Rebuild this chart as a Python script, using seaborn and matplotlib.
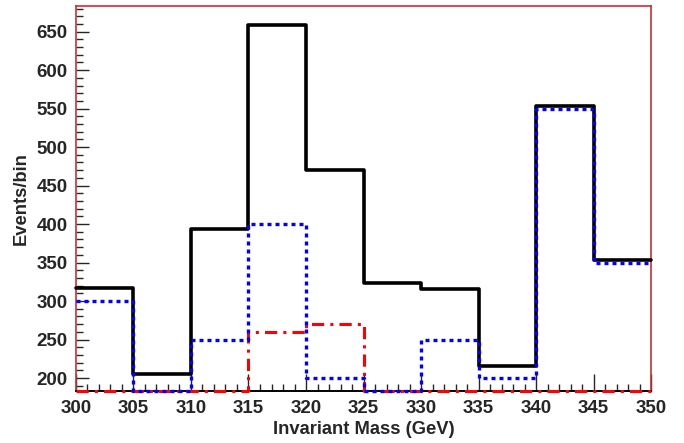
import numpy as np
import seaborn as sns
import matplotlib.pyplot as plt
from matplotlib.ticker import MultipleLocator

# bin edges and contents
edges = [300, 305, 310, 315, 320, 325, 330, 335, 340, 345, 350]
total = [317, 205, 393, 659, 470, 323, 316, 216, 553, 353]
blue_comp = [300, 0, 250, 400, 200, 0, 250, 200, 550, 350]
red_comp = [0, 0, 0, 260, 270, 0, 0, 0, 0, 0]

ymin, ymax = 183, 683

sns.set_style("ticks")
plt.rcParams["font.family"] = ["Liberation Sans", "DejaVu Sans"]
plt.rcParams["font.weight"] = "bold"

fig = plt.figure(figsize=(6.84, 4.43), dpi=100)
ax = fig.add_axes([0.111, 0.117, 0.841, 0.869])

centers = (np.array(edges[:-1]) + np.array(edges[1:])) / 2

# ROOT draws empty bins at the bottom of the frame
def draw(vals, **kw):
    w = np.clip(np.array(vals, dtype=float), ymin + 0.8, None)
    sns.histplot(x=centers, weights=w, bins=edges, element="step", fill=False, ax=ax, **kw)

draw(red_comp, color="red", linewidth=2.2, linestyle=(0, (4, 2, 1, 2)))
draw(total, color="black", linewidth=2.6)
draw(blue_comp, color="blue", linewidth=2.4, linestyle=(0, (1.2, 1.2)))
for ln in ax.lines:
    ln.set_clip_on(False)
    ln.set_zorder(3)

ax.set_xlim(300, 350)
ax.set_ylim(ymin, ymax)
ax.xaxis.set_major_locator(MultipleLocator(5))
ax.xaxis.set_minor_locator(MultipleLocator(1))
ax.yaxis.set_major_locator(MultipleLocator(50))
ax.yaxis.set_minor_locator(MultipleLocator(10))
ax.tick_params(axis="both", which="major", direction="in", length=9, width=1, labelsize=13.5, pad=6)
ax.tick_params(axis="both", which="minor", direction="in", length=5, width=1)
ax.tick_params(axis="x", which="major", length=12)
for lab in ax.get_xticklabels() + ax.get_yticklabels():
    lab.set_fontweight("bold")

for side in ["top", "right", "left"]:
    ax.spines[side].set_visible(True)
    ax.spines[side].set_color("#c83030")
    ax.spines[side].set_linewidth(1.2)
ax.spines["bottom"].set_color("black")
ax.spines["bottom"].set_linewidth(1.4)
for sp in ax.spines.values():
    sp.set_zorder(2)

ax.set_xlabel("Invariant Mass (GeV)", fontsize=13.2, fontweight="bold", labelpad=3)
ax.set_ylabel("Events/bin", fontsize=13.2, fontweight="bold", labelpad=5)

fig.savefig("out.png", dpi=100)
